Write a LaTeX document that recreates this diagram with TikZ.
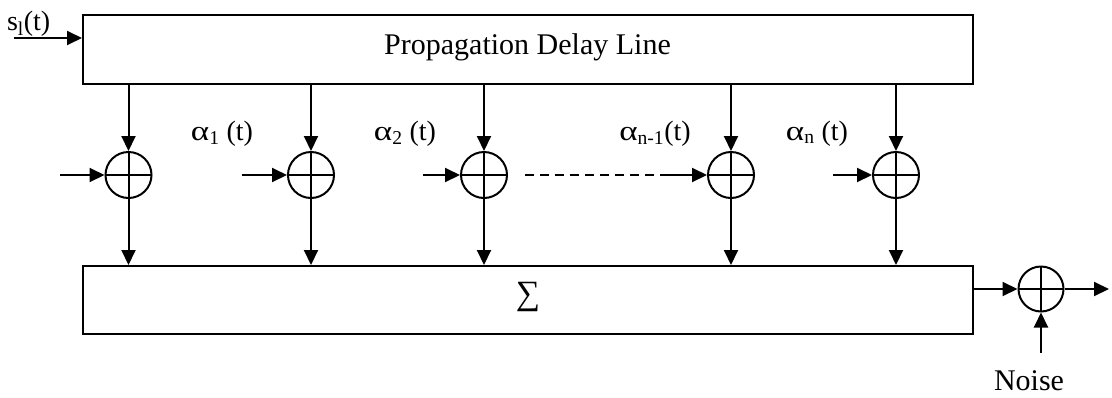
\documentclass[tikz,border=0pt]{standalone}
\usepackage{fontspec}
\setmainfont{Liberation Serif}
\usetikzlibrary{arrows.meta}
\begin{document}
\begin{tikzpicture}[x=1pt,y=-1pt,line width=2pt,
  >={Triangle[length=15pt,width=14pt]},
  adder/.style={circle,draw,minimum size=46pt,inner sep=0pt,
    path picture={\draw[line width=2pt] (path picture bounding box.north)--(path picture bounding box.south)
      (path picture bounding box.west)--(path picture bounding box.east);}},
  blk/.style={draw,rectangle,inner sep=0pt,minimum width=890pt},
  big/.style={font=\fontsize{30}{32}\selectfont,inner sep=0pt},
  lbl/.style={font=\fontsize{28}{30}\selectfont,inner sep=0pt},
  dashline/.style={dash pattern=on 9pt off 6pt}]
\useasboundingbox (0,0) rectangle (1112,397);
\newcommand{\myalpha}{\scalebox{1.25}[1]{α}}
% blocks
\node[blk,minimum height=69pt] (top) at (528,49.5) {};
\node[blk,minimum height=68pt] (bot) at (528,300) {};
\node[big,anchor=base] (tl) at (527.5,54) {Propagation Delay Line};
\node[inner sep=0pt,font=\fontsize{34}{36}\selectfont] (sig) at (528,297) {∑};
% adders
\node[adder] (c1) at (128.5,175) {};
\node[adder] (c2) at (311,175) {};
\node[adder] (c3) at (484,175) {};
\node[adder] (c4) at (731,175) {};
\node[adder] (c5) at (896,175) {};
\node[adder,minimum size=45pt] (cn) at (1041,289) {};
% vertical connections
\foreach \col in {c1,c2,c3,c4,c5}{
  \draw[->] (top.south -| \col) -- (\col.north);
  \draw[->] (\col.south) -- (bot.north -| \col);
}
% coefficient inputs
\coordinate (i1) at (60,175);
\coordinate (i2) at (242,175);
\coordinate (i3) at (423,175);
\coordinate (d4) at (525,175);
\coordinate (i4) at (667,175);
\coordinate (i5) at (833,175);
\draw[->] (i1) -- (c1.west);
\draw[->] (i2) -- (c2.west);
\draw[->] (i3) -- (c3.west);
\draw[dashline] (d4) -- (i4);
\draw[->] (i4) -- (c4.west);
\draw[->] (i5) -- (c5.west);
% labels
\node[lbl,anchor=base] (a1) at (222,140) {\myalpha\textsubscript{1} (t)};
\node[lbl,anchor=base] (a2) at (405,140) {\myalpha\textsubscript{2} (t)};
\node[lbl,anchor=base] (a3) at (655,140) {\myalpha\textsubscript{n-1}(t)};
\node[lbl,anchor=base] (a4) at (817,140) {\myalpha\textsubscript{n} (t)};
% input signal
\coordinate (sin) at (14,38);
\draw[->] (sin) -- (sin -| top.west);
\node[lbl,anchor=base west] (sl) at (6,30) {s\textsubscript{l}(t)};
% output and noise
\coordinate (out) at (1109,289);
\coordinate (nz) at (1041,353);
\draw[->] (bot.east |- cn) -- (cn.west);
\draw[->] (cn.east) -- (out);
\draw[->] (nz) -- (cn.south);
\node[big,anchor=base] (noise) at (1029,390) {Noise};
\end{tikzpicture}
\end{document}
